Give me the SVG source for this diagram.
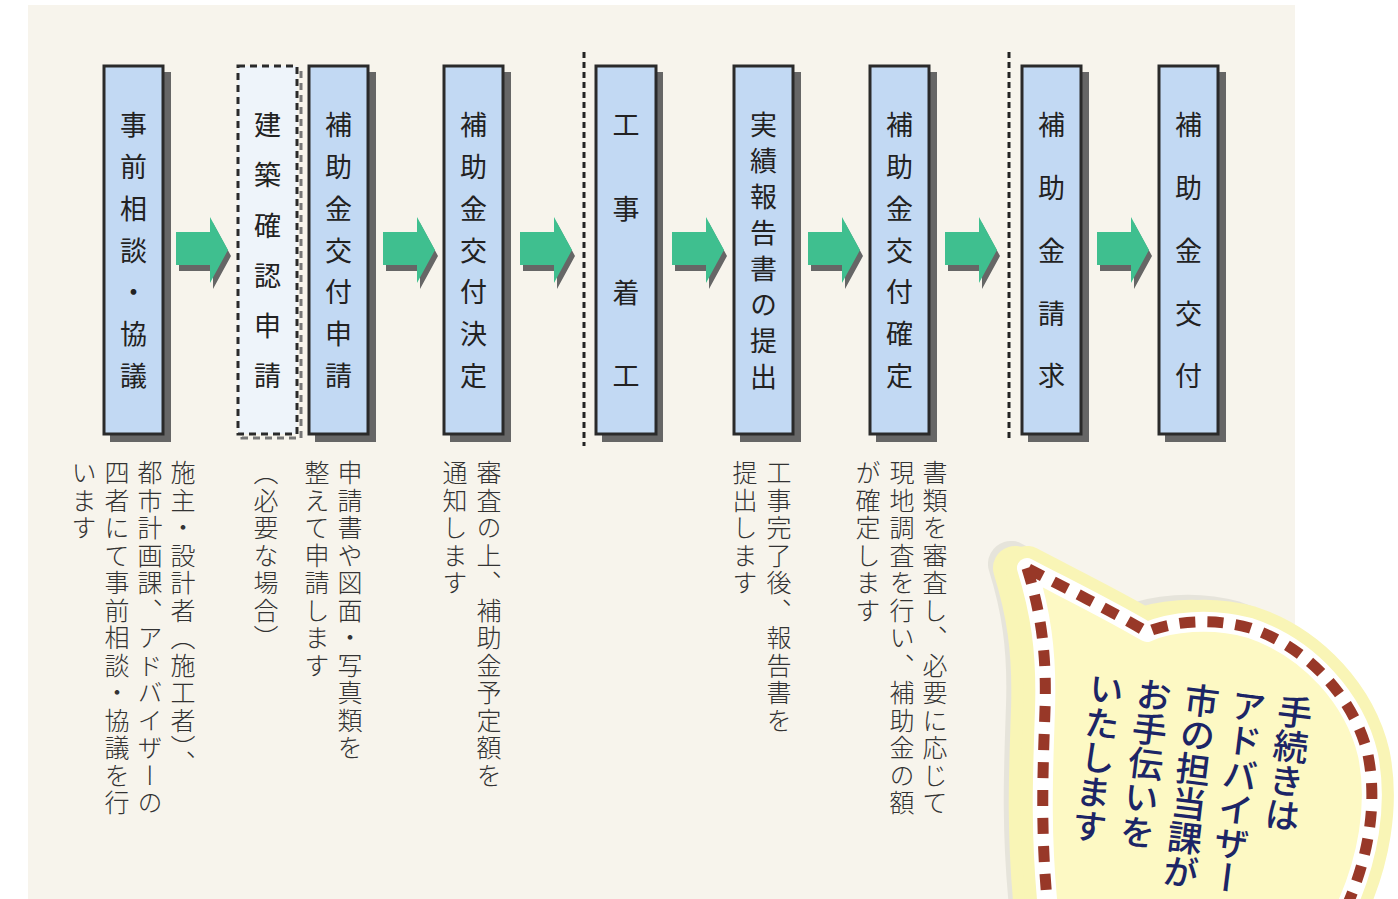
<svg xmlns="http://www.w3.org/2000/svg" width="1398" height="899" viewBox="0 0 1398 899">
<style>
.bx{fill:#c2d9f3;stroke:#2a2a2a;stroke-width:3}
.sh{fill:#666}
.bt{font-family:"Noto Sans CJK JP","Noto Sans",sans-serif;font-size:27px;font-weight:400;fill:#222;writing-mode:vertical-rl}
.ds{font-family:"Noto Sans CJK JP","Noto Sans",sans-serif;font-size:25px;font-weight:300;fill:#333;writing-mode:vertical-rl;letter-spacing:2.5px}
.bb{font-family:"Noto Sans CJK JP","Noto Sans",sans-serif;font-size:35px;font-weight:500;fill:#1c2566;writing-mode:vertical-rl;letter-spacing:-0.5px}
.ar{fill:#3fbf8f}
.ars{fill:#666}
.sep{stroke:#222;stroke-width:3;stroke-dasharray:6 4;fill:none}
</style>
<defs>
<path id="arrow" d="M0,0 H34 V-15 L52,18 L34,51 V33 H0 Z"/>
<path id="bub" d="M1027,568 C1040,610 1047,650 1045,710 C1043,770 1040,830 1048,910 L1345,910 C1368,860 1378,805 1368,755 C1355,700 1310,648 1250,628 C1210,617 1170,622 1147,632 C1110,610 1065,588 1027,568 Z"/>
</defs>
<rect x="0" y="0" width="1398" height="899" fill="#ffffff"/>
<rect x="28" y="5" width="1267" height="894" fill="#f7f4ec"/>

<g id="connectors">
<line class="sep" x1="584" y1="52" x2="584" y2="446"/>
<line class="sep" x1="1009" y1="52" x2="1009" y2="442"/>
<g transform="translate(176,232)"><use href="#arrow" class="ars" transform="translate(3,6)"/><use href="#arrow" class="ar"/></g>
<g transform="translate(383,232)"><use href="#arrow" class="ars" transform="translate(3,6)"/><use href="#arrow" class="ar"/></g>
<g transform="translate(520,232)"><use href="#arrow" class="ars" transform="translate(3,6)"/><use href="#arrow" class="ar"/></g>
<g transform="translate(672,232)"><use href="#arrow" class="ars" transform="translate(3,6)"/><use href="#arrow" class="ar"/></g>
<g transform="translate(808,232)"><use href="#arrow" class="ars" transform="translate(3,6)"/><use href="#arrow" class="ar"/></g>
<g transform="translate(945,232)"><use href="#arrow" class="ars" transform="translate(3,6)"/><use href="#arrow" class="ar"/></g>
<g transform="translate(1097,232)"><use href="#arrow" class="ars" transform="translate(3,6)"/><use href="#arrow" class="ar"/></g>
</g>

<g id="n1">
<rect class="sh" x="110" y="72" width="61" height="370"/>
<rect class="bx" x="104" y="66" width="59" height="368"/>
<text class="bt" x="133.5" y="111.5" style="letter-spacing:14.8px">事前相談・協議</text>
</g>
<g id="n2">
<rect x="242" y="70" width="59" height="368" fill="none" stroke="#777" stroke-width="3" stroke-dasharray="7 5"/>
<rect x="238" y="66" width="59" height="368" fill="#eef4fa" stroke="#2a2a2a" stroke-width="3" stroke-dasharray="7 5"/>
<text class="bt" x="267.5" y="111.5" style="letter-spacing:23.2px">建築確認申請</text>
</g>
<g id="n3">
<rect class="sh" x="315" y="72" width="61" height="370"/>
<rect class="bx" x="309" y="66" width="59" height="368"/>
<text class="bt" x="338.5" y="111.5" style="letter-spacing:14.8px">補助金交付申請</text>
</g>
<g id="n4">
<rect class="sh" x="450" y="72" width="61" height="370"/>
<rect class="bx" x="444" y="66" width="59" height="368"/>
<text class="bt" x="473.5" y="111.5" style="letter-spacing:14.8px">補助金交付決定</text>
</g>
<g id="n5">
<rect class="sh" x="602" y="72" width="61" height="370"/>
<rect class="bx" x="596" y="66" width="60" height="368"/>
<text class="bt" x="626" y="111.5" style="letter-spacing:56.7px">工事着工</text>
</g>
<g id="n6">
<rect class="sh" x="740" y="72" width="61" height="370"/>
<rect class="bx" x="734" y="66" width="59" height="368"/>
<text class="bt" x="763.5" y="111.5" style="letter-spacing:8.9px">実績報告書の提出</text>
</g>
<g id="n7">
<rect class="sh" x="876" y="72" width="61" height="370"/>
<rect class="bx" x="870" y="66" width="59" height="368"/>
<text class="bt" x="899.5" y="111.5" style="letter-spacing:14.8px">補助金交付確定</text>
</g>
<g id="n8">
<rect class="sh" x="1028" y="72" width="61" height="370"/>
<rect class="bx" x="1022" y="66" width="59" height="368"/>
<text class="bt" x="1051.5" y="111.5" style="letter-spacing:35.75px">補助金請求</text>
</g>
<g id="n9">
<rect class="sh" x="1165" y="72" width="61" height="370"/>
<rect class="bx" x="1159" y="66" width="59" height="368"/>
<text class="bt" x="1188.5" y="111.5" style="letter-spacing:35.75px">補助金交付</text>
</g>

<g id="descriptions">
<text class="ds" x="183" y="460">施主・設計者（施工者）、</text>
<text class="ds" x="150" y="460">都市計画課、アドバイザーの</text>
<text class="ds" x="117" y="460">四者にて事前相談・協議を行</text>
<text class="ds" x="84" y="460">います</text>
<text class="ds" x="266" y="460">（必要な場合）</text>
<text class="ds" x="350" y="460">申請書や図面・写真類を</text>
<text class="ds" x="317" y="460">整えて申請します</text>
<text class="ds" x="489" y="460">審査の上、補助金予定額を</text>
<text class="ds" x="455" y="460">通知します</text>
<text class="ds" x="779" y="460">工事完了後、報告書を</text>
<text class="ds" x="745" y="460">提出します</text>
<text class="ds" x="935" y="460">書類を審査し、必要に応じて</text>
<text class="ds" x="902" y="460">現地調査を行い、補助金の額</text>
<text class="ds" x="868" y="460">が確定します</text>
</g>

<g id="bubble">
<use href="#bub" fill="#dcdad0" stroke="#dcdad0" stroke-width="46" stroke-linejoin="round" transform="translate(-16,-4)" opacity="0.6"/>
<use href="#bub" fill="#f9f5b6" stroke="#f9f5b6" stroke-width="44" stroke-linejoin="round" transform="translate(-12,0)"/>
<use href="#bub" fill="#f9f5b6" stroke="#f9f5b6" stroke-width="44" stroke-linejoin="round"/>
<use href="#bub" fill="#fdf9c4" stroke="#ffffff" stroke-width="20" stroke-linejoin="round"/>
<use href="#bub" fill="none" stroke="#983828" stroke-width="11" stroke-dasharray="16 12" stroke-linejoin="round"/>
<g transform="rotate(7,1200,690)">
<text class="bb" x="1297" y="683">手続きは</text>
<text class="bb" x="1250" y="683">アドバイザー</text>
<text class="bb" x="1203" y="683">市の担当課が</text>
<text class="bb" x="1155" y="683">お手伝いを</text>
<text class="bb" x="1107" y="683">いたします</text>
</g>
</g>
</svg>
